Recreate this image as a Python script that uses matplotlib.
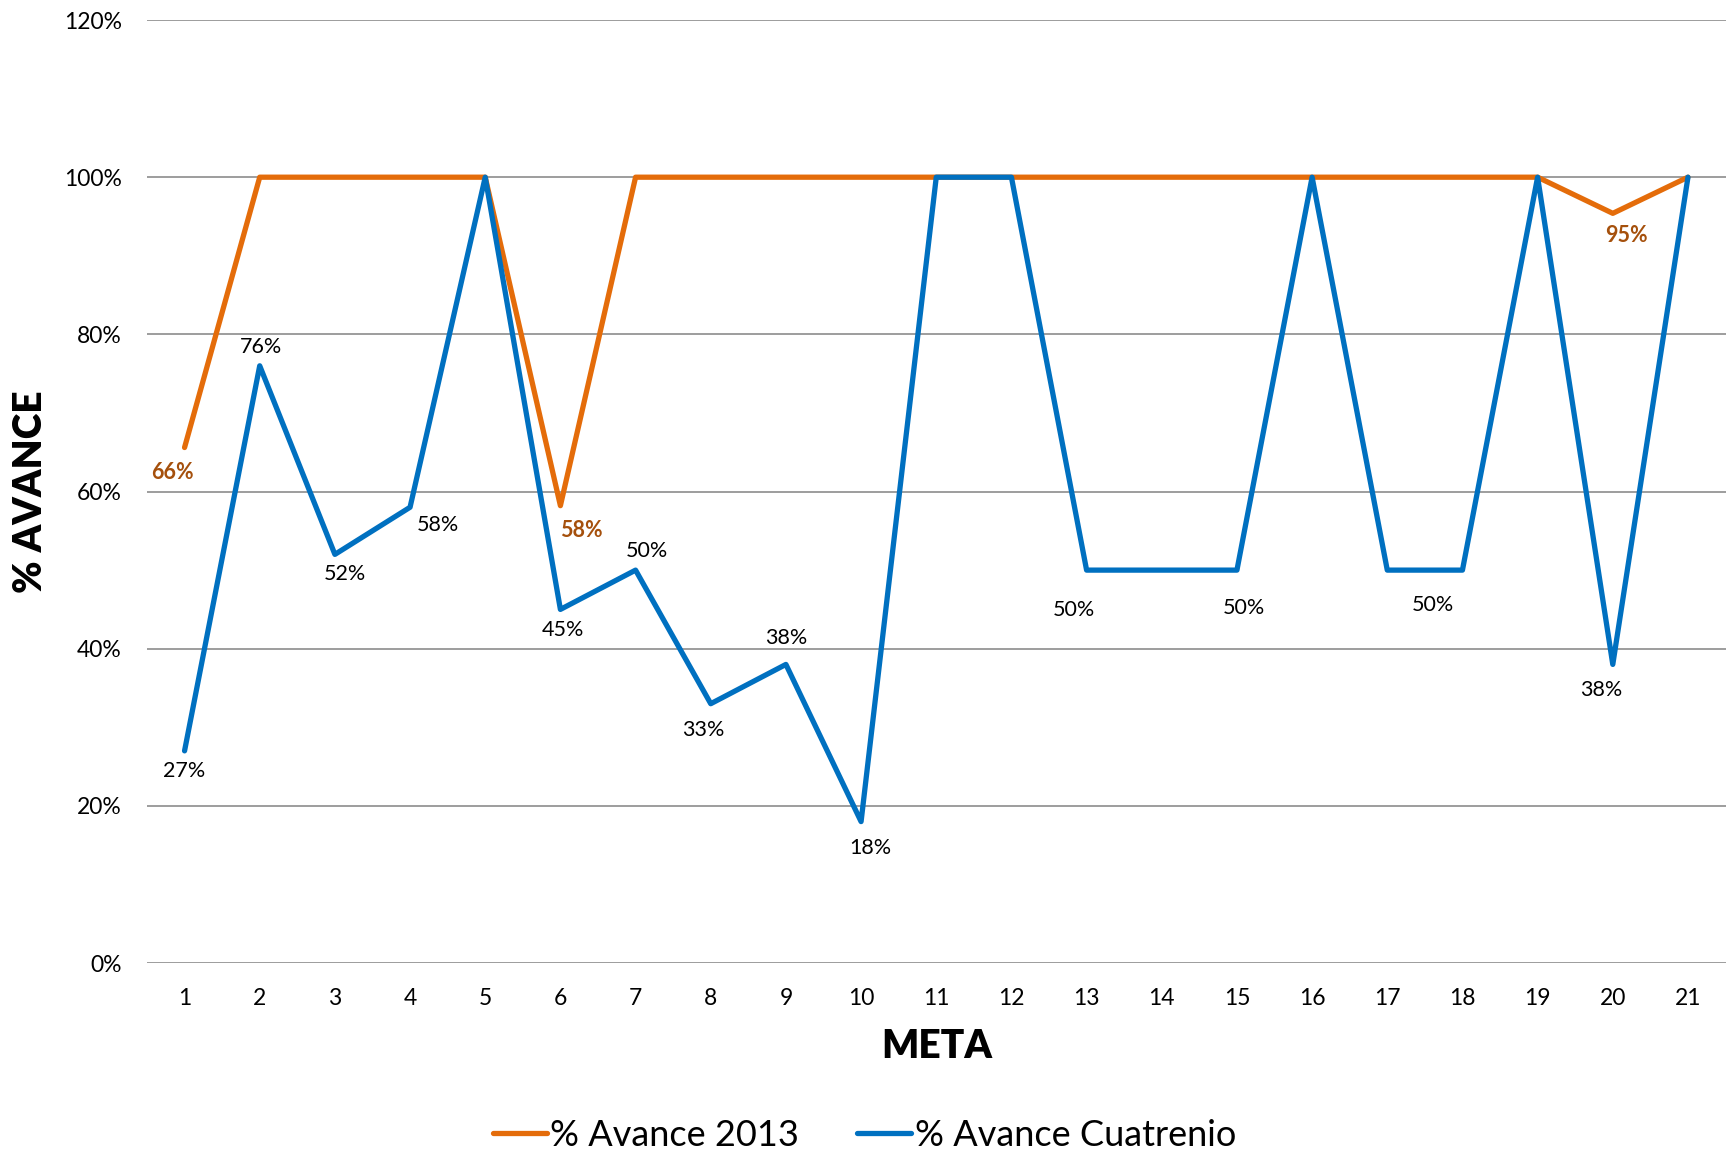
import matplotlib
matplotlib.use("Agg")
import matplotlib.pyplot as plt
from matplotlib.ticker import PercentFormatter

metas = list(range(1, 22))
avance_2013 = [0.656, 1.0, 1.0, 1.0, 1.0, 0.582, 1.0, 1.0, 1.0, 1.0, 1.0,
               1.0, 1.0, 1.0, 1.0, 1.0, 1.0, 1.0, 1.0, 0.954, 1.0]
avance_cuatrenio = [0.27, 0.76, 0.52, 0.58, 1.0, 0.45, 0.50, 0.33, 0.38, 0.18, 1.0,
                    1.0, 0.50, 0.50, 0.50, 1.0, 0.50, 0.50, 1.0, 0.38, 1.0]
y_ticks = [0, 0.2, 0.4, 0.6, 0.8, 1.0, 1.2]

# label offsets (pixels) for labelled points: index -> (dx, dy)
lab_2013 = {0: (-12, -25), 5: (21, -25), 19: (14, -22)}
lab_cuat = {0: (0, -20), 1: (1, 19), 2: (10, -20), 3: (28, -18), 5: (3, -21),
            6: (11, 19), 7: (-7, -26), 8: (0, 26), 9: (9, -26), 12: (-13, -40),
            14: (7, -38), 16: (46, -35), 19: (-12, -26)}

FONT = "Lato"
ORANGE = "#E46C0A"
BLUE = "#0070C0"
LABEL_ORANGE = "#A5500C"

fig = plt.figure(figsize=(17.29, 11.51), dpi=100)
ax = fig.add_axes([0.085, 0.1633, 0.913, 0.8193])

ax.plot(metas, avance_2013, color=ORANGE, lw=3.8, solid_joinstyle="round",
        solid_capstyle="round", label="% Avance 2013", zorder=3)
ax.plot(metas, avance_cuatrenio, color=BLUE, lw=3.8, solid_joinstyle="round",
        solid_capstyle="round", label="% Avance Cuatrenio", zorder=4)

for i, (dx, dy) in lab_2013.items():
    ax.annotate(f"{avance_2013[i]:.0%}", (metas[i], avance_2013[i]),
                xytext=(dx, dy), textcoords="offset pixels", ha="center", va="center",
                fontsize=15.5, fontweight="bold", color=LABEL_ORANGE, family=FONT, zorder=5)
for i, (dx, dy) in lab_cuat.items():
    ax.annotate(f"{avance_cuatrenio[i]:.0%}", (metas[i], avance_cuatrenio[i]),
                xytext=(dx, dy), textcoords="offset pixels", ha="center", va="center",
                fontsize=15.5, color="black", family=FONT, zorder=5)

ax.set_xlim(0.5, 21.5)
ax.set_ylim(0, 1.2)
ax.set_yticks(y_ticks)
ax.yaxis.set_major_formatter(PercentFormatter(1.0, decimals=0))
ax.set_xticks(metas)
ax.grid(axis="y", color="#8C8C8C", lw=1.2)
ax.set_axisbelow(True)
for s in ax.spines.values():
    s.set_visible(False)
ax.tick_params(axis="both", length=0, labelsize=16.5)
ax.tick_params(axis="y", pad=18)
ax.tick_params(axis="x", pad=18)
for lab in ax.get_xticklabels() + ax.get_yticklabels():
    lab.set_family(FONT)

ax.set_xlabel("META", fontsize=28, fontweight="heavy", family=FONT, labelpad=14)
fig.text(30 / 1729, 0.573, "% AVANCE", rotation=90, ha="center", va="center",
         fontsize=28, fontweight="heavy", family=FONT)

fig.legend(loc="lower center", bbox_to_anchor=(0.5, -0.029), ncol=2, frameon=False,
           prop={"family": FONT, "size": 26}, handlelength=1.5, handletextpad=0.1,
           columnspacing=1.6)

fig.savefig("out.png", dpi=100, facecolor="white")
